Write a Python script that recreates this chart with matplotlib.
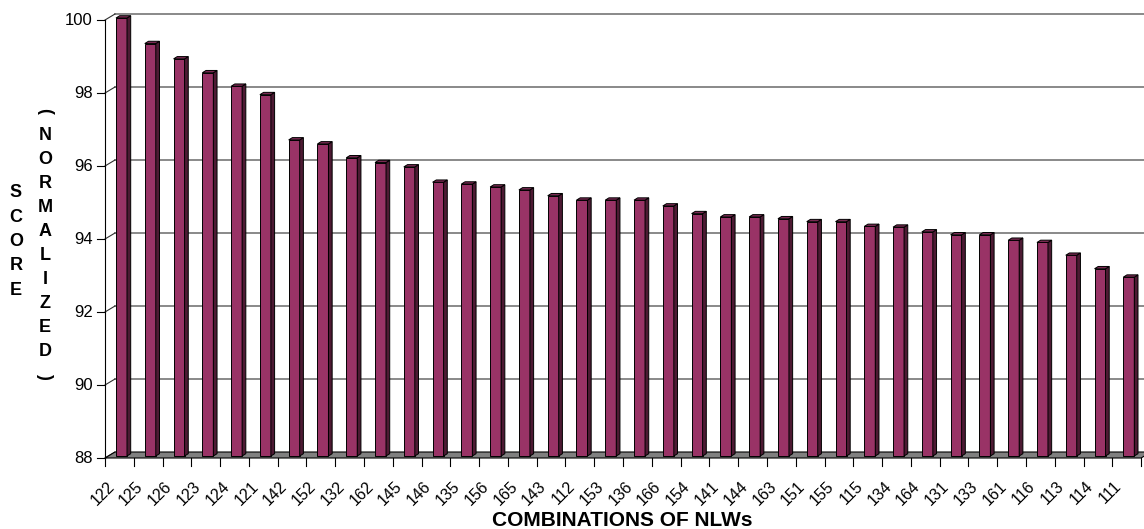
import matplotlib
matplotlib.use("Agg")
import matplotlib.pyplot as plt
from matplotlib.patches import Polygon

plt.rcParams['font.family'] = ['Liberation Sans', 'DejaVu Sans']

labels = ['122', '125', '126', '123', '124', '121', '142', '152', '132', '162',
          '145', '146', '135', '156', '165', '143', '112', '153', '136', '166',
          '154', '141', '144', '163', '151', '155', '115', '134', '164', '131',
          '133', '161', '116', '113', '114', '111']
scores = [100.0, 99.3, 98.88, 98.5, 98.13, 97.9, 96.66, 96.55, 96.17, 96.04,
          95.92, 95.5, 95.45, 95.37, 95.29, 95.13, 95.01, 95.01, 95.01, 94.85,
          94.64, 94.55, 94.55, 94.5, 94.42, 94.42, 94.29, 94.27, 94.14, 94.06,
          94.06, 93.91, 93.85, 93.5, 93.13, 92.9]
yticks = [88, 90, 92, 94, 96, 98, 100]

W, H = 1144, 529
fig = plt.figure(figsize=(W / 100, H / 100), dpi=100)
ax = fig.add_axes([105 / W, (H - 458) / H, 1039 / W, 438 / H])
xmax = 1039 / 28.78
ax.set_xlim(0, xmax)
ax.set_ylim(88, 100)
ax.axis('off')

# pixel -> data units
px = 1 / 28.78
py = 12 / 438
n = len(scores)
dx, dy = 10 * px, 6 * py          # wall depth
bdx, bdy = 3.7 * px, 2.3 * py     # bar depth
ox, oy = 5 * px, 2 * py           # bars sit mid floor
bw = 11 * px
gap = 6 * px

# back wall gridlines + left wall diagonals
for v in yticks:
    if v > 88:
        ax.plot([dx, xmax + 1], [v + dy, v + dy], color='#808080', lw=1.3,
                zorder=1, clip_on=False)
    ax.plot([0, dx], [v, v + dy], color='#303030', lw=0.8, zorder=1, clip_on=False)
    ax.plot([-8 * px, 0], [v, v], color='black', lw=0.8, zorder=1, clip_on=False)
    ax.text(-12 * px, v, str(v), ha='right', va='center', fontsize=12)
ax.plot([0, 0], [88, 100], color='black', lw=0.8, zorder=1, clip_on=False)

# floor
floor = Polygon([(0, 88), (n, 88), (n + dx, 88 + dy), (dx, 88 + dy)],
                closed=True, facecolor='#808080', edgecolor='black', lw=0.8,
                zorder=2, clip_on=False)
ax.add_patch(floor)

# bars
for i, v in enumerate(scores):
    x0 = i + gap + ox
    y0 = 88 + oy
    top = v + oy
    front = Polygon([(x0, y0), (x0 + bw, y0), (x0 + bw, top), (x0, top)],
                    closed=True, facecolor='#993366', edgecolor='black', lw=0.7,
                    zorder=3, clip_on=False)
    side = Polygon([(x0 + bw, y0), (x0 + bw + bdx, y0 + bdy),
                    (x0 + bw + bdx, top + bdy), (x0 + bw, top)],
                   closed=True, facecolor='#4d1a33', edgecolor='black', lw=0.7,
                   zorder=3, clip_on=False)
    cap = Polygon([(x0, top), (x0 + bw, top), (x0 + bw + bdx, top + bdy),
                   (x0 + bdx, top + bdy)],
                  closed=True, facecolor='#7a2952', edgecolor='black', lw=0.7,
                  zorder=3, clip_on=False)
    ax.add_patch(front)
    ax.add_patch(side)
    ax.add_patch(cap)

# x ticks and labels
for k in range(n + 1):
    ax.plot([k, k], [88, 88 - 8 * py], color='black', lw=0.8, clip_on=False)
for k, lab in enumerate(labels):
    ax.text(k + 7 * px, 88 - 26 * py, lab, rotation=45, rotation_mode='anchor',
            ha='right', va='center', fontsize=11.5)

# axis titles
fig.text(622 / W, 1 - 520 / H, 'COMBINATIONS OF NLWs', ha='center', va='center',
         fontsize=15, fontweight='bold')
for j, ch in enumerate('SCORE'):
    fig.text(16 / W, 1 - (193 + 24.3 * j) / H, ch, ha='center', va='center',
             fontsize=13, fontweight='bold')
for j, ch in enumerate('(NORMALIZED)'):
    rot = 270 if ch in '()' else 0
    fig.text(45 / W, 1 - (111 + 24.1 * j) / H, ch, ha='center', va='center',
             fontsize=13, fontweight='bold', rotation=rot)

fig.savefig('out.png', dpi=100)
